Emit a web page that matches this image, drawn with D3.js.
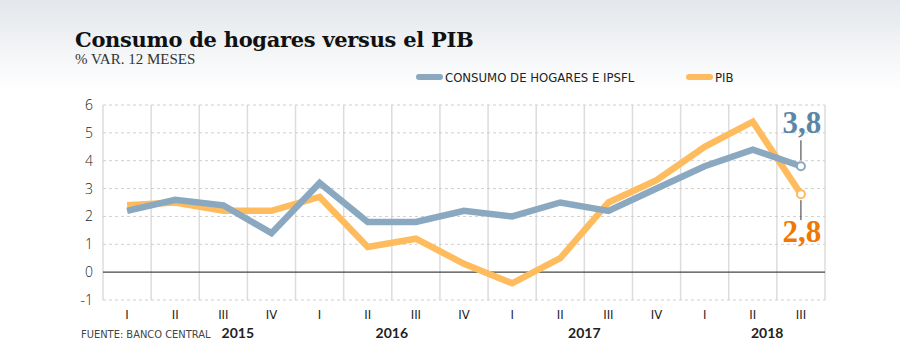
<!DOCTYPE html>
<html>
<head>
<meta charset="utf-8">
<script src="https://cdn.jsdelivr.net/npm/d3@7"></script>
<style>
  body { margin: 0; background: #fff; }
  svg { display: block; }
</style>
</head>
<body>
<svg id="chart" width="900" height="362"></svg>
<script>
// quarters 2015-I .. 2018-III
const quarters = ['I', 'II', 'III', 'IV', 'I', 'II', 'III', 'IV', 'I', 'II', 'III', 'IV', 'I', 'II', 'III']
const consumo = [2.2, 2.6, 2.4, 1.4, 3.2, 1.8, 1.8, 2.2, 2.0, 2.5, 2.2, 3.0, 3.8, 4.4, 3.8]
const pib = [2.4, 2.5, 2.2, 2.2, 2.7, 0.9, 1.2, 0.3, -0.4, 0.5, 2.5, 3.3, 4.5, 5.4, 2.8]
const years = ['2015', '2016', '2017', '2018']
// where each year label sits, in quarter units from the left edge
const yearPos = [2.8, 6, 10, 13.8]
const yTicks = [-1, 0, 1, 2, 3, 4, 5, 6]

const svg = d3.select('#chart')

const margin = { left: 103, right: 75, top: 105, bottom: 62 }
const width = 900 - margin.left - margin.right
const height = 362 - margin.top - margin.bottom

// background gradient
const defs = svg.append('defs')
const grad = defs.append('linearGradient')
    .attr('id', 'bg')
    .attr('x1', 0).attr('y1', 0).attr('x2', 0).attr('y2', 1)
grad.append('stop').attr('offset', 0).attr('stop-color', '#e3e7eb')
grad.append('stop').attr('offset', 1).attr('stop-color', '#ffffff')
svg.append('rect')
    .attr('width', 900).attr('height', 90)
    .attr('fill', 'url(#bg)')

// title block
svg.append('text')
    .attr('x', 75).attr('y', 47)
    .attr('font-family', 'DejaVu Serif, serif')
    .attr('font-weight', 'bold')
    .attr('font-size', 21)
    .attr('letter-spacing', -0.3)
    .attr('fill', '#111')
    .text('Consumo de hogares versus el PIB')

svg.append('text')
    .attr('x', 75).attr('y', 64)
    .attr('font-family', 'Liberation Serif, serif')
    .attr('font-size', 15)
    .attr('fill', '#333')
    .text('% VAR. 12 MESES')

// legend
const legend = [
  { name: 'CONSUMO DE HOGARES E IPSFL', color: '#8aa9c1', x: 417 },
  { name: 'PIB', color: '#ffbc5e', x: 687 },
]
const lg = svg.append('g')
    .selectAll('g')
    .data(legend)
    .join('g')
    .attr('transform', d => `translate(${d.x},77)`)
lg.append('line')
    .attr('x1', 2).attr('x2', 23)
    .attr('stroke', d => d.color)
    .attr('stroke-width', 6)
    .attr('stroke-linecap', 'round')
lg.append('text')
    .attr('x', 28).attr('y', 5)
    .attr('font-family', 'Liberation Sans Narrow, DejaVu Sans Condensed, sans-serif')
    .attr('font-size', 13)
    .attr('fill', '#222')
    .text(d => d.name)

const g = svg.append('g')
    .attr('transform', `translate(${margin.left},${margin.top})`)

const x = d3.scaleBand()
    .domain(d3.range(quarters.length))
    .range([0, width])

const xPos = d3.scaleLinear()
    .domain([0, quarters.length])
    .range([0, width])

const y = d3.scaleLinear()
    .domain([-1, 6])
    .range([height, 0])

// vertical grid at quarter boundaries
g.append('g')
    .selectAll('line')
    .data(d3.range(quarters.length + 1))
    .join('line')
    .attr('x1', d => xPos(d)).attr('x2', d => xPos(d))
    .attr('y1', 0).attr('y2', height)
    .attr('stroke', '#dcdcdc')
    .attr('stroke-width', 1.5)

// horizontal grid
g.append('g')
    .selectAll('line')
    .data(yTicks.filter(d => d !== 0))
    .join('line')
    .attr('x1', 0).attr('x2', width)
    .attr('y1', d => y(d)).attr('y2', d => y(d))
    .attr('stroke', '#cfcfcf')
    .attr('stroke-dasharray', '3,3')

g.append('line')
    .attr('x1', 0).attr('x2', width)
    .attr('y1', y(0)).attr('y2', y(0))
    .attr('stroke', '#444')
    .attr('stroke-width', 1.3)

// y labels
g.append('g')
    .selectAll('text')
    .data(yTicks)
    .join('text')
    .attr('x', -10)
    .attr('y', d => y(d) + 5)
    .attr('text-anchor', 'end')
    .attr('font-family', 'Open Sans, sans-serif')
    .attr('font-weight', 300)
    .attr('font-size', 14)
    .attr('fill', '#222')
    .text(d => d)

// x labels
g.append('g')
    .selectAll('text')
    .data(quarters)
    .join('text')
    .attr('x', (d, i) => x(i) + x.bandwidth() / 2)
    .attr('y', height + 19)
    .attr('text-anchor', 'middle')
    .attr('font-family', 'Liberation Sans Narrow, DejaVu Sans Condensed, sans-serif')
    .attr('font-size', 13)
    .attr('fill', '#222')
    .text(d => d)

g.append('g')
    .selectAll('text')
    .data(years)
    .join('text')
    .attr('x', (d, i) => xPos(yearPos[i]))
    .attr('y', height + 38)
    .attr('text-anchor', 'middle')
    .attr('font-family', 'Lato, sans-serif')
    .attr('font-weight', 'bold')
    .attr('font-size', 14)
    .attr('fill', '#222')
    .text(d => d)

svg.append('text')
    .attr('x', 81).attr('y', 338)
    .attr('font-family', 'Liberation Sans Narrow, DejaVu Sans Condensed, sans-serif')
    .attr('font-size', 11)
    .attr('fill', '#444')
    .text('FUENTE: BANCO CENTRAL')

// lines
const line = d3.line()
    .x((d, i) => x(i) + x.bandwidth() / 2)
    .y(d => y(d))

const series = [
  { values: pib, color: '#ffbc5e', label: '#f07800', dir: 1 },
  { values: consumo, color: '#8aa9c1', label: '#5a86a8', dir: -1 },
]

g.selectAll('path.series')
    .data(series)
    .join('path')
    .classed('series', true)
    .attr('d', d => line(d.values))
    .attr('fill', 'none')
    .attr('stroke', d => d.color)
    .attr('stroke-width', 6.5)
    .attr('stroke-linejoin', 'miter')

// end markers and value callouts
const last = quarters.length - 1
const lastX = x(last) + x.bandwidth() / 2
const ends = g.selectAll('g.end')
    .data(series)
    .join('g')
    .classed('end', true)

ends.append('line')
    .attr('x1', lastX).attr('x2', lastX)
    .attr('y1', d => y(d.values[last]) + d.dir * 6)
    .attr('y2', d => y(d.values[last]) + d.dir * 26)
    .attr('stroke', '#333')
    .attr('stroke-width', 1)

ends.append('circle')
    .attr('cx', lastX)
    .attr('cy', d => y(d.values[last]))
    .attr('r', 4)
    .attr('fill', '#fff')
    .attr('stroke', d => d.color)
    .attr('stroke-width', 2)

ends.append('text')
    .attr('x', lastX + 1)
    .attr('y', d => y(d.values[last]) + (d.dir > 0 ? 48 : -33))
    .attr('text-anchor', 'middle')
    .attr('font-family', 'Liberation Serif, serif')
    .attr('font-weight', 'bold')
    .attr('font-size', 31)
    .attr('fill', d => d.label)
    .text(d => d3.format('.1f')(d.values[last]).replace('.', ','))
</script>
</body>
</html>
